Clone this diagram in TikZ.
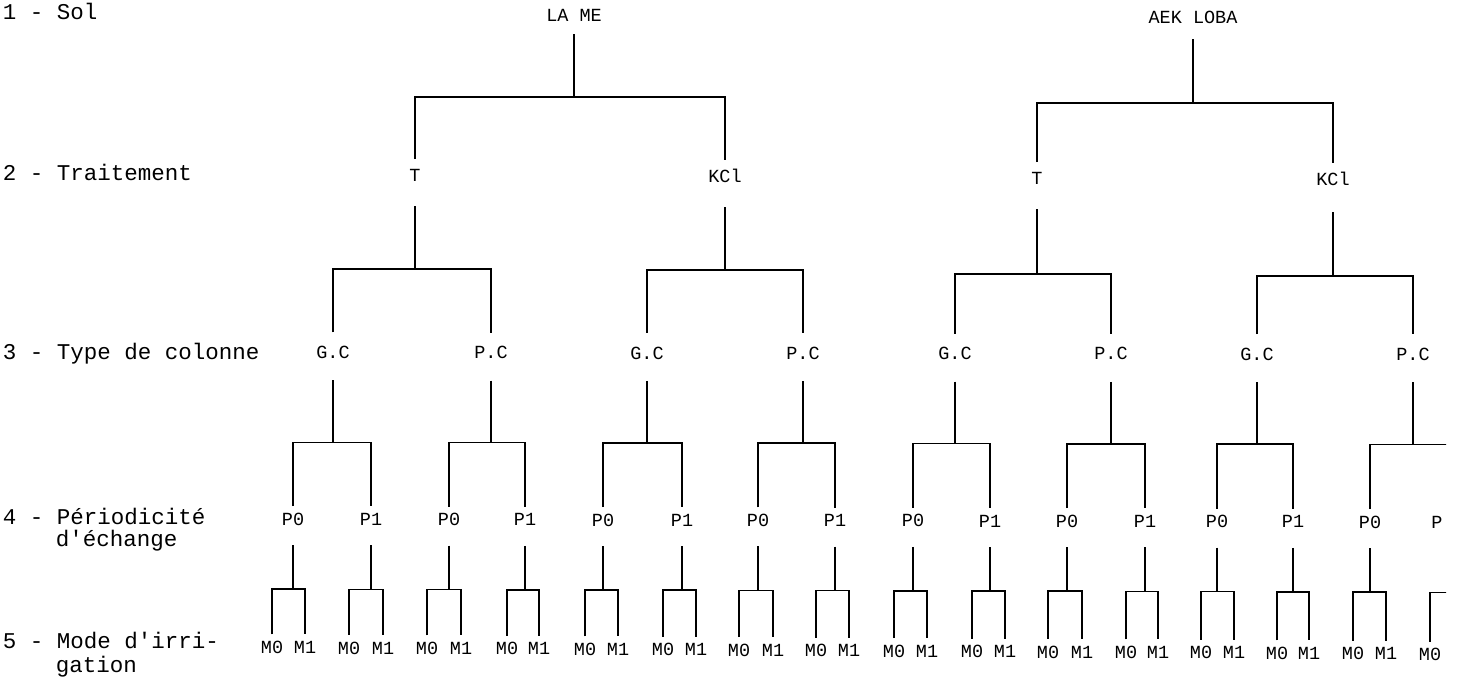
\documentclass[tikz,border=0pt]{standalone}
\usepackage{fontspec}
\setmonofont{Liberation Mono}
\newcommand\treebracket[6]{%
  \draw ([yshift=-#4]#1.center) -- ([yshift=-#5]#1.center);
  \draw ([yshift=#6]#2.center) |- ([yshift=-#5]#1.center) -| ([yshift=#6]#3.center);}
\begin{document}
\begin{tikzpicture}[x=1pt,y=-1pt,line width=1.6pt,
  lab/.style={font=\ttfamily\fontsize{18.5}{20}\selectfont,inner sep=0pt},
  rowlab/.style={font=\ttfamily\fontsize{22.5}{22}\selectfont,anchor=base west,inner sep=0pt}]
\useasboundingbox (0,0) rectangle (1458,678);
% row labels
\node[rowlab] (r1) at (2,19) {1 - Sol};
\node[rowlab] (r2) at (2,180) {2 - Traitement};
\node[rowlab] (r3) at (2,359) {3 - Type de colonne};
\node[rowlab] (r4) at (2,524) {4 - Périodicité};
\node[rowlab] (r4b) at (55,546) {d'échange};
\node[rowlab] (r5) at (2,648) {5 - Mode d'irri-};
\node[rowlab] (r5b) at (55,672) {gation};
\begin{scope}
\clip (0,0) rectangle (1446,678);
% level 1
\node[lab] (s1) at (574,15) {LA ME};
\node[lab] (s2) at (1193,17) {AEK LOBA};
% level 2
\node[lab] (t1) at (415,175) {T};
\node[lab] (k1) at (725,176) {KCl};
\node[lab] (t2) at (1037,178) {T};
\node[lab] (k2) at (1333,179) {KCl};
% level 3
\foreach \x/\t [count=\i] in {333/G.C,491/P.C,647/G.C,803/P.C,955/G.C,1111/P.C,1257/G.C,1413/P.C}{
  \pgfmathsetmacro\yy{352+0.3*\i}
  \node[lab] (c\i) at (\x,\yy) {\t};}
% level 4
\foreach \x/\t [count=\i] in {293/P0,371/P1,449/P0,525/P1,603/P0,682/P1,758/P0,835/P1,913/P0,990/P1,1067/P0,1145/P1,1217/P0,1293/P1,1370/P0}{
  \pgfmathsetmacro\yy{519+0.2*\i}
  \node[lab] (p\i) at (\x,\yy) {\t};}
\coordinate (p16) at (1450,522.5);
\node[lab] (p16t) at (1437,522.5) {P};
% level 5
\foreach \a/\b [count=\k] in {272/305,349/383,427/461,507/539,585/618,663/696,739/773,816/849,894/927,972/1005,1048/1082,1126/1158,1201/1234,1277/1309,1353/1386}{
  \pgfmathsetmacro\yy{647+0.45*\k}
  \node[lab] (ma\k) at (\a,\yy) {M0};
  \node[lab] (mb\k) at (\b,\yy) {M1};}
\node[lab] (ma16) at (1430,654.5) {M0};
\coordinate (mb16) at (1463,654.5);
% connectors
\treebracket{s1}{t1}{k1}{19pt}{82pt}{16pt}
\treebracket{s2}{t2}{k2}{22pt}{86pt}{16pt}
\treebracket{t1}{c1}{c2}{31pt}{94pt}{20pt}
\treebracket{k1}{c3}{c4}{31pt}{94pt}{20pt}
\treebracket{t2}{c5}{c6}{31pt}{96pt}{20pt}
\treebracket{k2}{c7}{c8}{33pt}{97pt}{20pt}
\foreach \j in {1,...,8}{
  \pgfmathtruncatemacro\l{2*\j-1}
  \pgfmathtruncatemacro\r{2*\j}
  \treebracket{c\j}{p\l}{p\r}{28pt}{90pt}{13pt}}
\foreach \k in {1,...,16}{
  \treebracket{p\k}{ma\k}{mb\k}{26pt}{70pt}{13pt}}
\end{scope}
\end{tikzpicture}
\end{document}
